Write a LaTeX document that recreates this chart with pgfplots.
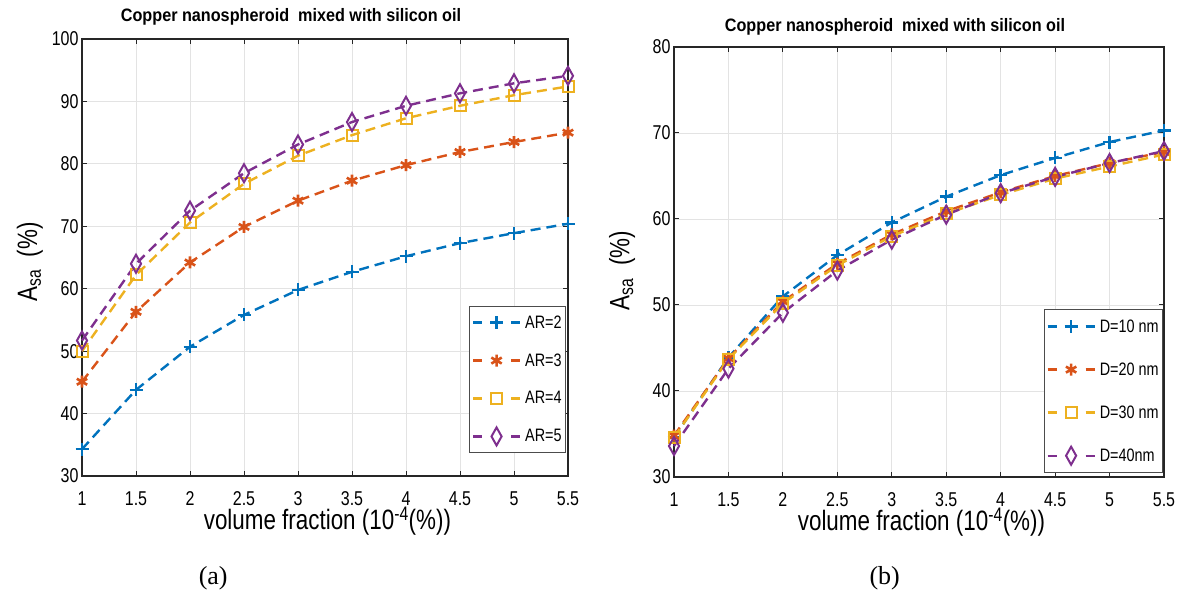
\documentclass[border=0pt]{standalone}
\usepackage{pgfplots}
\pgfplotsset{compat=1.18}
\usepackage{fontspec}
\setmainfont{Liberation Sans}[FakeStretch=0.8]
\newfontfamily\tfont{Liberation Sans}[FakeStretch=0.9]
\newfontfamily\capfont{Liberation Serif}
\definecolor{mb}{rgb}{0,0.447,0.741}
\definecolor{mo}{rgb}{0.85,0.325,0.098}
\definecolor{my}{rgb}{0.929,0.694,0.125}
\definecolor{mp}{rgb}{0.494,0.184,0.556}
\pgfplotsset{
  mystyle/.style={
    scale only axis,
    xmin=1, xmax=5.5,
    xtick={1,1.5,...,5.5},
    tick align=inside,
    major tick length=5bp,
    grid=major,
    grid style={gray!22, line width=0.8bp},
    axis line style={line width=1.6bp, black!85},
    tick style={line width=1bp, black!85},
    /pgf/number format/assume math mode=true,
    ticklabel style={font=\fontsize{20bp}{22bp}\selectfont},
    xticklabel style={yshift=-12bp},
    clip=false,
    every axis plot/.append style={line width=2.4bp, dash pattern=on 10bp off 6bp, mark options={solid}},
    legend cell align=left,
    legend image code/.code={
      \draw[##1,solid] (0bp,0bp)--(9bp,0bp);
      \draw[##1,solid] (38bp,0bp)--(47bp,0bp);
      \draw[##1] plot coordinates {(23.5bp,0bp)};
    },
    xlabel={volume fraction (10\textsuperscript{-4}(\%))},
    xlabel style={font=\fontsize{28bp}{30bp}\selectfont, at={(axis description cs:0.505,-0.104)}, anchor=center},
    ylabel={A\textsubscript{sa}\ \ (\%)},
    ylabel style={font=\fontsize{28bp}{30bp}\selectfont, anchor=center},
    title={Copper nanospheroid\ \ mixed with silicon oil},
    title style={font=\tfont\fontsize{18bp}{20bp}\selectfont\bfseries},
  },
  s1/.style={color=mb, mark=+, mark size=6.5bp},
  s2/.style={color=mo, mark=asterisk, mark size=6bp, mark options={solid, line width=2.6bp}},
  s3/.style={color=my, mark=square, mark size=5.5bp, mark options={solid, line width=2bp}},
  s4/.style={color=mp, mark=diamond, mark size=9bp, mark options={solid, line width=2bp, xscale=0.75}},
}
\begin{document}
\begin{tikzpicture}
\path[use as bounding box] (0,0) rectangle (1182bp,596bp);
\begin{axis}[mystyle,
  at={(82bp,120bp)}, anchor=south west,
  width=486bp, height=437bp,
  ymin=30, ymax=100, ytick={30,40,...,100},
  ylabel style={at={(axis description cs:-0.107,0.49)}},
  title style={at={(axis description cs:0.43,1.027)}, anchor=base},
  legend style={at={(axis description cs:0.996,0.053)}, anchor=south east,
    draw=black!70, line width=0.8bp, font=\fontsize{18bp}{20bp}\selectfont,
    row sep=20bp, inner xsep=2bp, inner ysep=7bp, column sep=2bp},
]
\addplot+[s1] coordinates {(1,34.3) (1.5,43.8) (2,50.7) (2.5,55.8) (3,59.8) (3.5,62.7) (4,65.2) (4.5,67.3) (5,68.9) (5.5,70.4)};
\addplot+[s2] coordinates {(1,45.1) (1.5,56.3) (2,64.2) (2.5,69.9) (3,74.1) (3.5,77.3) (4,79.8) (4.5,81.9) (5,83.5) (5.5,85.0)};
\addplot+[s3] coordinates {(1,50.0) (1.5,62.2) (2,70.6) (2.5,76.8) (3,81.3) (3.5,84.6) (4,87.3) (4.5,89.3) (5,91.0) (5.5,92.4)};
\addplot+[s4] coordinates {(1,51.7) (1.5,64.0) (2,72.5) (2.5,78.5) (3,83.1) (3.5,86.7) (4,89.3) (4.5,91.3) (5,92.9) (5.5,94.1)};
\legend{AR=2,AR=3,AR=4,AR=5}
\node[font=\capfont\fontsize{26bp}{28bp}\selectfont] at (axis description cs:0.27,-0.233) {(a)};
\end{axis}
\begin{axis}[mystyle,
  at={(674bp,119bp)}, anchor=south west,
  width=490bp, height=430bp,
  ymin=30, ymax=80, ytick={30,40,...,80},
  ylabel style={at={(axis description cs:-0.106,0.48)}},
  title style={at={(axis description cs:0.451,1.023)}, anchor=base},
  legend style={at={(axis description cs:0.998,0.009)}, anchor=south east,
    draw=black!70, line width=0.8bp, font=\fontsize{18bp}{20bp}\selectfont,
    row sep=25bp, inner xsep=2bp, inner ysep=8bp, column sep=2bp},
]
\addplot+[s1] coordinates {(1,34.6) (1.5,43.9) (2,51.0) (2.5,55.8) (3,59.6) (3.5,62.6) (4,65.1) (4.5,67.1) (5,68.95) (5.5,70.3)};
\addplot+[s2] coordinates {(1,34.8) (1.5,43.8) (2,50.4) (2.5,54.8) (3,58.2) (3.5,60.9) (4,63.1) (4.5,65.0) (5,66.5) (5.5,67.8)};
\addplot+[s3] coordinates {(1,34.6) (1.5,43.7) (2,50.2) (2.5,54.6) (3,58.0) (3.5,60.6) (4,62.8) (4.5,64.7) (5,66.1) (5.5,67.5)};
\addplot+[s4] coordinates {(1,33.6) (1.5,42.6) (2,49.1) (2.5,54.0) (3,57.6) (3.5,60.5) (4,63.0) (4.5,64.9) (5,66.5) (5.5,67.9)};
\legend{D=10 nm,D=20 nm,D=30 nm,D=40nm}
\node[font=\capfont\fontsize{26bp}{28bp}\selectfont] at (axis description cs:0.43,-0.235) {(b)};
\end{axis}
\end{tikzpicture}
\end{document}
